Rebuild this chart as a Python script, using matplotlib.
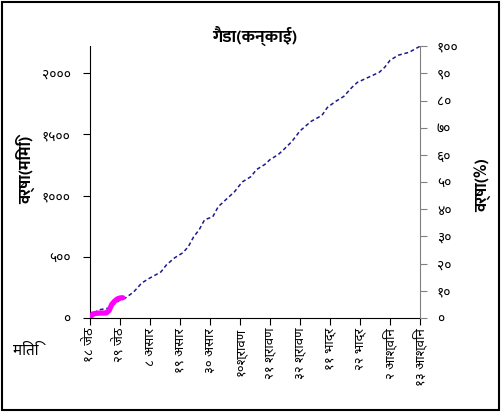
import matplotlib
matplotlib.use("Agg")
import matplotlib.pyplot as plt
from matplotlib.patches import Rectangle

# cumulative rainfall (mm), by day from 18 जेठ
days = [0, 3, 7, 11, 13, 16, 19, 22, 24, 26, 28, 31, 34, 36, 38, 40, 42, 45, 47, 49,
        51, 53, 55, 56, 59, 61, 64, 66, 69, 71, 74, 77, 81, 85, 87, 90, 93, 96, 98,
        102, 106, 108, 110, 113, 117, 121]
rain_mm = [0, 66, 82, 148, 164, 213, 287, 328, 352, 377, 434, 492, 533, 582, 664, 721,
           803, 828, 910, 951, 992, 1033, 1090, 1115, 1156, 1213, 1254, 1295, 1336, 1377,
           1443, 1530, 1607, 1656, 1721, 1770, 1811, 1885, 1926, 1967, 2008, 2049, 2107,
           2148, 2172, 2222]

# observed part (pink)
obs_days = [0, 1, 2, 3, 4, 5, 6, 7, 8, 9, 10, 11, 12]
obs_mm = [0, 33, 38, 40, 41, 41, 42, 62, 112, 138, 156, 164, 166]

date_ticks = [0, 11, 22, 33, 44, 55, 66, 77, 88, 99, 110, 121]
date_labels = ["१८ जेठ", "२९ जेठ", "८ असार", "१९ असार", "३० असार", "१०श्रावण",
               "२१ श्रावण", "३२ श्रावण", "११ भाद्र", "२२ भाद्र", "२ आश्विन", "१३ आश्विन"]
mm_ticks = [0, 500, 1000, 1500, 2000]
mm_labels = ["०", "५००", "१०००", "१५००", "२०००"]
pct_ticks = [0, 10, 20, 30, 40, 50, 60, 70, 80, 90, 100]
pct_labels = ["०", "१०", "२०", "३०", "४०", "५०", "६०", "७०", "८०", "९०", "१००"]

deva = ["Noto Sans Devanagari", "DejaVu Sans"]
deva_b = ["Mukta", "Noto Sans Devanagari", "DejaVu Sans"]

fig = plt.figure(figsize=(5.01, 4.12), dpi=100)
ax = fig.add_axes([0.1796, 0.228, 0.659, 0.660])
ax2 = ax.twinx()

ax.plot(days, rain_mm, color="#1a1a8c", lw=1.1, ls=(0, (2.5, 1.8)), zorder=2)
ax.plot(obs_days, obs_mm, color="#ff00ff", lw=3.8, solid_capstyle="round", zorder=3)

total = rain_mm[-1]
ax.set_xlim(0, 121)
ax.set_ylim(0, total)
ax2.set_ylim(0, 100)

ax.set_xticks(date_ticks)
ax.set_xticklabels(date_labels, rotation=90, family=deva, fontsize=9.5)
ax.set_yticks(mm_ticks)
ax.set_yticklabels(mm_labels, family=deva, fontsize=10)
ax2.set_yticks(pct_ticks)
ax2.set_yticklabels(pct_labels, family=deva, fontsize=10)

for a in (ax, ax2):
    a.spines["top"].set_visible(False)
ax.spines["right"].set_visible(False)
ax2.spines["left"].set_visible(False)
ax2.spines["bottom"].set_visible(False)
ax2.spines["right"].set_color("#808080")
ax2.tick_params(axis="y", colors="#808080", labelcolor="black", length=5, pad=7)
ax.tick_params(axis="y", length=5, pad=9)
ax.tick_params(axis="x", length=5, pad=2)

ax.set_title("गैडा(कन्काई)", family=deva_b, fontweight="bold", fontsize=12.5, pad=2)
fig.text(0.05, 0.587, "वर्षा(मिमि)", rotation=90, ha="center", va="center",
         family=deva_b, fontweight="bold", fontsize=12)
fig.text(0.964, 0.551, "वर्षा(%)", rotation=90, ha="center", va="center",
         family=deva_b, fontweight="bold", fontsize=12)
fig.text(0.026, 0.148, "मिति", ha="left", va="center", family=deva, fontsize=11)

fig.patches.append(Rectangle((0.004, 0.006), 0.992, 0.988, transform=fig.transFigure,
                             fill=False, edgecolor="black", lw=1.5))

fig.savefig("out.png", dpi=100)
